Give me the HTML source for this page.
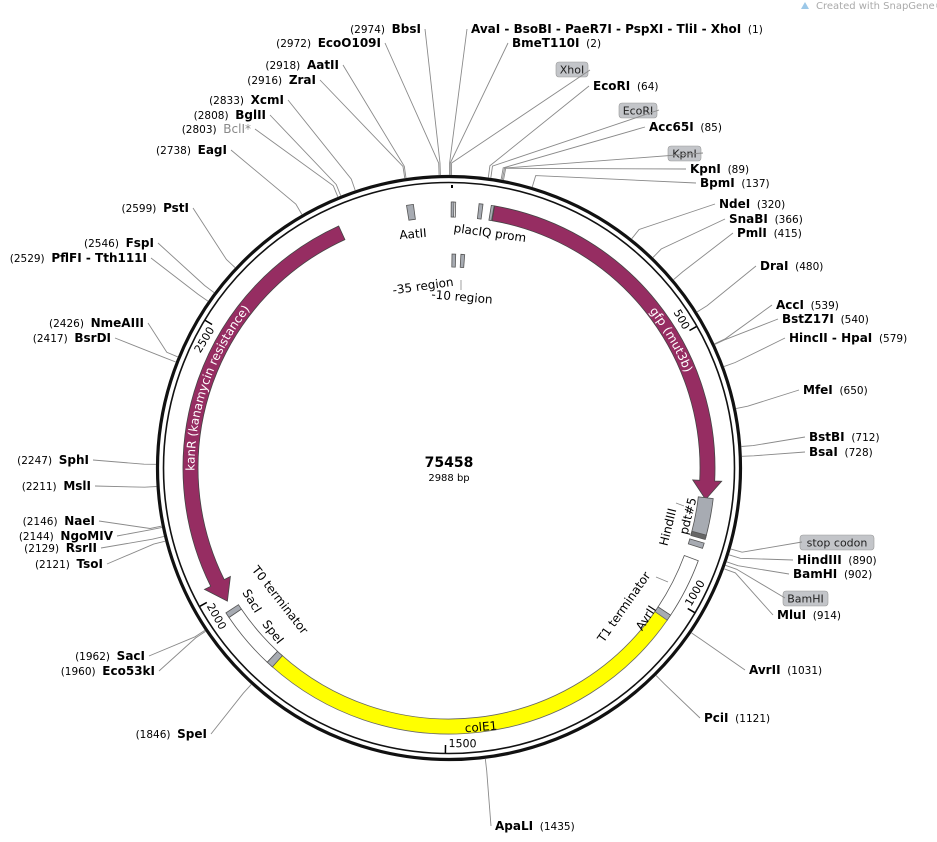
<!DOCTYPE html>
<html><head><meta charset="utf-8"><style>
body{margin:0;background:#fff;width:937px;height:837px;overflow:hidden}
svg{font-family:"DejaVu Sans","Liberation Sans",sans-serif}
.n{font-size:12px;font-weight:bold;fill:#000}
.p{font-size:10.5px;font-weight:normal;fill:#000}
.f{font-size:12px;fill:#000}
</style></head><body>
<svg id="s" width="937" height="837" xmlns="http://www.w3.org/2000/svg"></svg>
<script>
const S=document.getElementById('s');const NS='http://www.w3.org/2000/svg';
const cx=449,cy=468;
function pt(r,a){a=a*Math.PI/180;return [cx+r*Math.sin(a),cy-r*Math.cos(a)];}
function el(t,at,txt){const e=document.createElementNS(NS,t);for(const k in at)e.setAttribute(k,at[k]);if(txt!=null)e.textContent=txt;S.appendChild(e);return e;}
function A(p){return p[0].toFixed(1)+' '+p[1].toFixed(1);}
function band(r1,r2,a1,a2,fill,stroke){const lg=(a2-a1)>180?1:0;
 const d='M'+A(pt(r2,a1))+' A'+r2+' '+r2+' 0 '+lg+' 1 '+A(pt(r2,a2))+' L'+A(pt(r1,a2))+' A'+r1+' '+r1+' 0 '+lg+' 0 '+A(pt(r1,a1))+'Z';
 el('path',{d:d,fill:fill,stroke:stroke||'#555','stroke-width':0.8});}
function arrowCW(a1,a2,h,fill){const r1=251,r2=266;const b=a2-h;const lg=(b-a1)>180?1:0;
 const d='M'+A(pt(r2,a1))+' A'+r2+' '+r2+' 0 '+lg+' 1 '+A(pt(r2,b))+' L'+A(pt(r2+7,b))+' L'+A(pt(258.5,a2))+' L'+A(pt(r1-7,b))+' L'+A(pt(r1,b))+' A'+r1+' '+r1+' 0 '+lg+' 0 '+A(pt(r1,a1))+'Z';
 el('path',{d:d,fill:fill,stroke:'#444','stroke-width':0.8});}
function arrowCCW(a1,a2,h,fill){const r1=251,r2=266;const b=a1+h;const lg=(a2-b)>180?1:0;
 const d='M'+A(pt(r2,a2))+' A'+r2+' '+r2+' 0 '+lg+' 0 '+A(pt(r2,b))+' L'+A(pt(r2+7,b))+' L'+A(pt(258.5,a1))+' L'+A(pt(r1-7,b))+' L'+A(pt(r1,b))+' A'+r1+' '+r1+' 0 '+lg+' 1 '+A(pt(r1,a2))+'Z';
 el('path',{d:d,fill:fill,stroke:'#444','stroke-width':0.8});}
const G='#a7abb2';
el('circle',{cx:cx,cy:cy,r:291.5,fill:'none',stroke:'#111','stroke-width':3.2});
el('circle',{cx:cx,cy:cy,r:285.5,fill:'none',stroke:'#111','stroke-width':1.6});
const deg=p=>p/2988*360;
const R=[['AvaI - BsoBI - PaeR7I - PspXI - TliI - XhoI','1',471,33,1],['BmeT110I','2',512,47,2],['EcoRI','64',593,90,64],['Acc65I','85',649,131,85],['KpnI','89',690,173,89],['BpmI','137',700,187,137],['NdeI','320',719,208,320],['SnaBI','366',729,223,366],['PmlI','415',737,237,415],['DraI','480',760,270,480],['AccI','539',776,309,539],['BstZ17I','540',782,323,540],['HincII - HpaI','579',789,342,579],['MfeI','650',803,394,650],['BstBI','712',809,441,712],['BsaI','728',809,456,728],['HindIII','890',797,564,890],['BamHI','902',793,578,902],['MluI','914',777,619,914],['AvrII','1031',749,674,1031],['PciI','1121',704,722,1121],['ApaLI','1435',495,830,1435]];
const L=[['BbsI','2974',421,33],['EcoO109I','2972',381,47],['AatII','2918',339,69],['ZraI','2916',316,84],['XcmI','2833',284,104],['BglII','2808',266,119],['BclI*','2803',251,133],['EagI','2738',227,154],['PstI','2599',189,212],['FspI','2546',154,247],['PflFI - Tth111I','2529',147,262],['NmeAIII','2426',144,327],['BsrDI','2417',111,342],['SphI','2247',89,464],['MslI','2211',91,490],['NaeI','2146',95,525],['NgoMIV','2144',113,540],['RsrII','2129',97,552],['TsoI','2121',103,568],['SacI','1962',145,660],['Eco53kI','1960',155,675],['SpeI','1846',207,738]];
function leader(a,x,y){const p1=pt(293,a),p2=pt(305,a);el('polyline',{points:A(p1)+' '+A(p2)+' '+x+' '+y,fill:'none',stroke:'#8a8a8a','stroke-width':0.9});}
R.forEach(e=>{const a=deg(e[4]);leader(a,e[2]-4,e[3]-4);const t=el('text',{x:e[2],y:e[3],class:'n'});
 const s1=document.createElementNS(NS,'tspan');s1.textContent=e[0];t.appendChild(s1);
 const s2=document.createElementNS(NS,'tspan');s2.setAttribute('class','p');s2.textContent='\u00a0 ('+e[1]+')';t.appendChild(s2);});
L.forEach(e=>{const a=deg(+e[1]);leader(a,e[2]+4,e[3]-4);const t=el('text',{x:e[2],y:e[3],class:'n','text-anchor':'end'});
 const s2=document.createElementNS(NS,'tspan');s2.setAttribute('class','p');s2.textContent='('+e[1]+')\u00a0 ';t.appendChild(s2);
 const s1=document.createElementNS(NS,'tspan');s1.textContent=e[0];if(e[0]=='BclI*')s1.setAttribute('style','fill:#888;font-weight:normal');t.appendChild(s1);});
function box(x,y,w,txt){el('rect',{x:x,y:y,width:w,height:15,rx:3,fill:'#c3c5c9',stroke:'#999','stroke-width':0.6});el('text',{x:x+w/2,y:y+11.5,'text-anchor':'middle',style:'font-size:11px;fill:#222'},txt);}
box(556,62,32,'XhoI');box(619,103,38,'EcoRI');box(668,146,33,'KpnI');box(800,535,74,'stop codon');box(783,591,45,'BamHI');
[[588,70,deg(4)],[657,110,deg(68)],[701,153,deg(87)],[800,542,deg(880)],[783,598,deg(908)]].forEach(b=>leader(b[2],b[0]+2,b[1]));
band(251,266,deg(5),deg(12),'#fff');
band(251,266,deg(4),deg(9),G);band(251,266,deg(54),deg(61),G);band(251,266,deg(76),deg(81),G);
arrowCW(deg(82),97,4.2,'#962d62');
band(251,266,96.6,105.2,G);band(251,266,104.6,105.6,'#666');band(251,266,106.4,107.6,G);
band(251,266,110.4,123.6,'#fff');band(251,266,123.6,125,G);
band(251,266,124.9,221.9,'#ffff00','#666');band(251,266,221.6,223.1,G);
band(251,266,223.1,235.8,'#fff');band(251,266,235.8,237,G);
arrowCCW(239,335.5,4.6,'#962d62');
band(251,266,350.8,352.3,G);
band(201,214,0.8,1.8,G);band(201,214,3.2,4.2,G);
el('line',{x1:452,y1:185,x2:452,y2:188,stroke:'#000','stroke-width':2});
[[500,'500'],[1000,'1000'],[1500,'1500'],[2000,'2000'],[2500,'2500']].forEach(t=>{const a=deg(t[0]);const p1=pt(285,a),p2=pt(277,a);
 el('line',{x1:p1[0],y1:p1[1],x2:p2[0],y2:p2[1],stroke:'#000','stroke-width':1.5});
 const bottom=a>90&&a<270;const q=pt(bottom?279:272,a);
 el('text',{x:q[0],y:q[1],transform:'rotate('+(bottom?a-180:a)+' '+q[0]+' '+q[1]+')','text-anchor':bottom?'start':'end',dx:bottom?3:-3,class:'f',style:'font-size:11px'},t[1]);});
function rt(x,y,r,txt,st){el('text',{x:x,y:y,transform:'rotate('+r+' '+x+' '+y+')','text-anchor':'middle','dominant-baseline':'central',class:'f',style:st||''},txt);}
rt(413,234,-5,'AatII');rt(490,233,8,'placIQ prom');rt(423,286,-8,'-35 region');rt(462,297,5,'-10 region');
rt(668,527,-76,'HindIII');rt(688,516,-76,'pdt#5');
rt(624,607,-55,'T1 terminator');rt(646,618,-57,'AvrII');rt(481,727,-5,'colE1');
rt(280,600,52,'T0 terminator');rt(252,601,58,'SacI');rt(273,632,52,'SpeI');
el('line',{x1:461,y1:280,x2:461,y2:290,stroke:'#888','stroke-width':0.8});
el('line',{x1:676,y1:503,x2:684,y2:506,stroke:'#888','stroke-width':0.8});
el('line',{x1:656,y1:577,x2:668,y2:582,stroke:'#888','stroke-width':0.8});
function curved(id,r,a1,a2,txt){el('path',{id:id,d:'M'+A(pt(r,a1))+' A'+r+' '+r+' 0 0 1 '+A(pt(r,a2)),fill:'none'});
 const kt=el('text',{class:'f',style:'fill:#fff;font-size:12px'});const tp=document.createElementNS(NS,'textPath');tp.setAttribute('href','#'+id);tp.setAttribute('startOffset','50%');tp.setAttribute('text-anchor','middle');tp.textContent=txt;kt.appendChild(tp);}
curved('kp',254.5,244,334,'kanR (kanamycin resistance)');
curved('gp',254.5,40,80,'gfp (mut3b)');
el('text',{x:449,y:467,'text-anchor':'middle',style:'font-size:14px;font-weight:bold'},'75458');
el('text',{x:449,y:481,'text-anchor':'middle',style:'font-size:10px'},'2988 bp');
el('text',{x:816,y:9,style:'font-size:10px;fill:#aaa'},'Created with SnapGene\u00ae');
el('path',{d:'M801 9 L805 2 L809 9Z',fill:'#9cc8e8'});
</script>
</body></html>
